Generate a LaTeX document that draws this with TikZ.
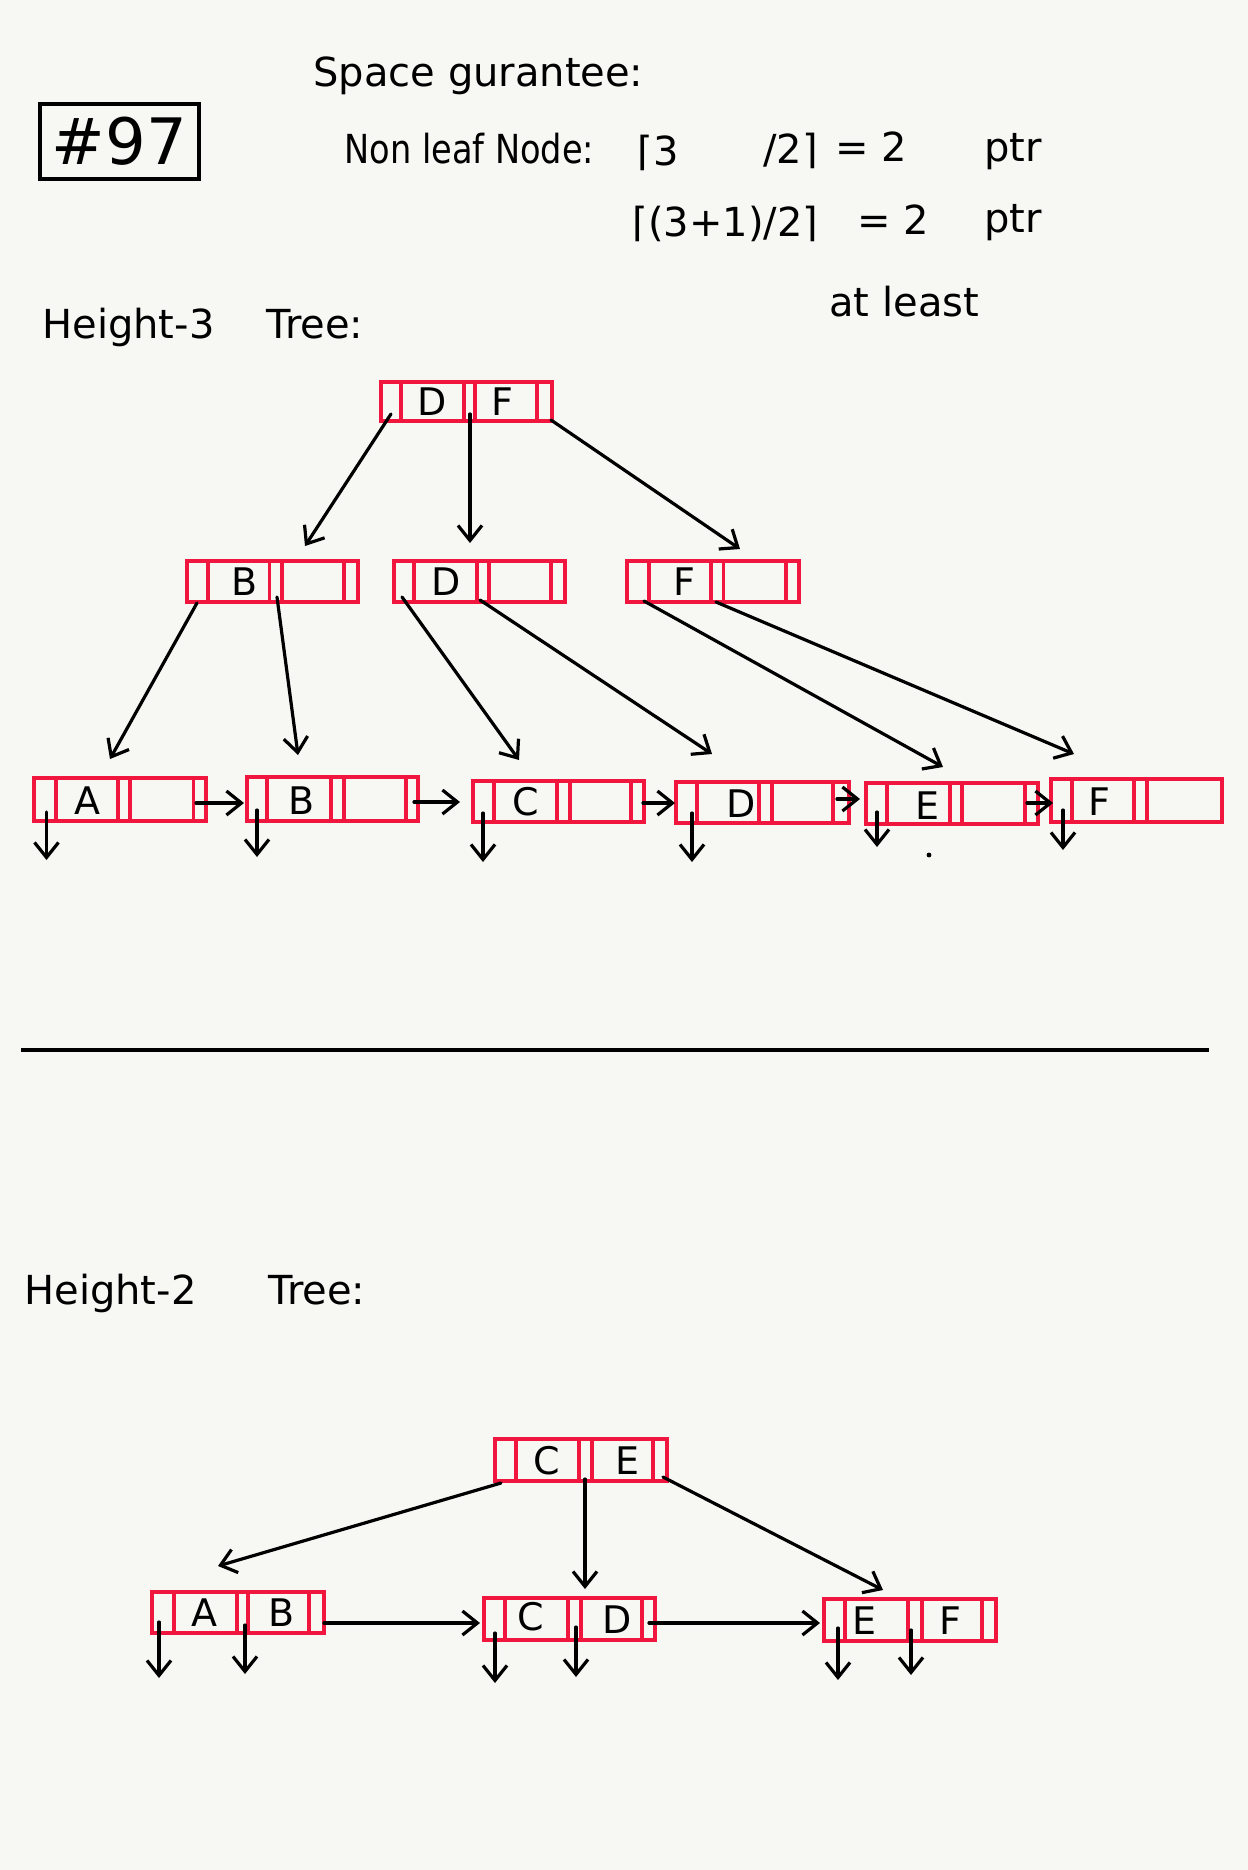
\documentclass[tikz,border=0pt]{standalone}
\usepackage{fontspec}
\usepackage{graphicx}
\setmainfont{DejaVu Sans}
\usetikzlibrary{arrows.meta,calc}
\definecolor{bpred}{RGB}{240,22,62}
\definecolor{paper}{RGB}{247,247,244}
\tikzset{
  bpn/.style={draw=bpred, line width=1.8pt, rectangle, inner sep=0pt, outer sep=0pt},
  rdl/.style={draw=bpred, line width=1.6pt},
  keyl/.style={font=\fontsize{19}{21}\selectfont, inner sep=0pt},
  arr/.style={draw=black, line width=1.6pt, line cap=round, -{Straight Barb[length=7.5pt,width=12pt,line width=1.6pt]}},
  hand/.style={font=\fontsize{20}{24}\selectfont, anchor=base west, inner sep=0pt},
}
\newcommand\mybpbox[6]{%
  \node[bpn, minimum width={(#4-#2)*0.5pt}, minimum height={(#5-#3)*0.5pt}] (#1) at ({(#2+#4)/2},{(#3+#5)/2}) {};
  \foreach \d in {#6} \draw[rdl] (\d,#3) -- (\d,#5);
}
\begin{document}
\begin{tikzpicture}[x=0.5pt,y=-0.5pt]
\fill[paper] (0,0) rectangle (1248,1870);
\useasboundingbox (0,0) rectangle (1248,1870);

% header
\node[draw, line width=1.6pt, minimum width=79.5pt, minimum height=37.5pt, inner sep=0pt,
      font=\fontsize{32}{36}\selectfont] (title) at (119.5,141.5) {\#97};
\node[hand] (space) at (313,86) {Space gurantee:};
\node[hand] (nonleaf) at (344,163) {\scalebox{0.84}[1]{Non leaf Node:}};
\node[hand] (f1a) at (637,165) {⌈3};
\node[hand] (f1b) at (763,163) {/2⌉};
\node[hand] (f1c) at (835,161) {= 2};
\node[hand] (f1d) at (984,161) {ptr};
\node[hand] (f2a) at (632,236) {⌈(3+1)/2⌉};
\node[hand] (f2c) at (857,234) {= 2};
\node[hand] (f2d) at (984,232) {ptr};
\node[hand] (atleast) at (829,316) {at least};
\node[hand] (h3) at (42,338) {Height-3\hspace{26pt}Tree:};

% height-3 tree
\mybpbox{R}{381}{382}{552}{421}{401,464,475,537}
\node[keyl] (Rk1) at (432,401.5) {D};
\node[keyl] (Rk2) at (502,401.5) {F};

\mybpbox{M1}{187}{561}{358}{602}{208,269.5,282,344}
\node[keyl] (M1k) at (245,581.5) {B};
\mybpbox{M2}{394}{561}{565}{602}{414,477,489,551}
\node[keyl] (M2k) at (446,581.5) {D};
\mybpbox{M3}{627}{561}{799}{602}{649,711,723.5,786}
\node[keyl] (M3k) at (684,581.5) {F};

\mybpbox{L1}{34}{778}{206}{821}{56,118,130,193.5}
\node[keyl] (L1k) at (87,801) {A};
\mybpbox{L2}{247}{777}{418}{821}{267,331,344,406}
\node[keyl] (L2k) at (302,801) {B};
\mybpbox{L3}{473}{781}{644}{822}{494,557,570,631}
\node[keyl] (L3k) at (526,802) {C};
\mybpbox{L4}{676}{782}{849}{823}{697,759,772,833}
\node[keyl] (L4k) at (741,804) {D};
\mybpbox{L5}{866}{783}{1038}{824}{887,950,962,1025}
\node[keyl] (L5k) at (927,806) {E};
\mybpbox{L6}{1051}{779}{1222}{822}{1072,1134,1147}
\node[keyl] (L6k) at (1099,802) {F};

\draw[arr] ($(R.south west)+(10,-7)$) -- ($(M1.north west)+(118,-15)$);
\draw[arr] ($(R.south west)+(89,-7)$) -- ($(M2.north west)+(76,-18)$);
\draw[arr] ($(R.south east)+(-1,-1)$) -- ($(M3.north west)+(113,-12)$);

\draw[arr] ($(M1.south west)+(10,1)$) -- ($(L1.north west)+(76,-19)$);
\draw[arr] ($(M1.south west)+(90,-5)$) -- ($(L2.north west)+(51,-22)$);
\draw[arr] ($(M2.south west)+(8,-5)$) -- ($(L3.north west)+(46,-21)$);
\draw[arr] ($(M2.south west)+(86,-2)$) -- ($(L4.north west)+(36,-28)$);
\draw[arr] ($(M3.south west)+(17,-1)$) -- ($(L5.north west)+(77,-16)$);
\draw[arr] ($(M3.south west)+(89,0)$) -- ($(L6.north west)+(23,-25)$);

\draw[arr] ($(L1.east)+(-10,3.5)$) -- ($(L2.west)+(-3,4)$);
\draw[arr] ($(L2.east)+(-4,3)$) -- ($(L3.west)+(-13,0.5)$);
\draw[arr] ($(L3.east)+(-1,1.5)$) -- ($(L4.west)+(-1,0.5)$);
\draw[arr] ($(L4.east)+(-12,-3.5)$) -- ($(L5.west)+(-6,-4.5)$);
\draw[arr] ($(L5.east)+(-11,-0.5)$) -- ($(L6.west)+(2,2.5)$);

\draw[arr] ($(L1.south west)+(12.5,-9)$) -- ++(0,48);
\draw[arr] ($(L2.south west)+(10,-11)$) -- ++(0,47);
\draw[arr] ($(L3.south west)+(10,-9)$) -- ++(0,49);
\draw[arr] ($(L4.south west)+(16,-10)$) -- ++(0,49);
\draw[arr] ($(L5.south west)+(11,-12)$) -- ++(0,35);
\draw[arr] ($(L6.south west)+(12,-12)$) -- ++(0,40);
\fill (929,855) circle (1.2pt);

% separator
\draw[line width=1.6pt] (21,1050) -- (1209,1050);

% height-2 tree
\node[hand] (h2) at (24,1304) {Height-2\hspace{36pt}Tree:};

\mybpbox{R2}{495}{1439}{667}{1481}{516,579,592,653}
\node[keyl] (R2k1) at (547,1461) {C};
\node[keyl] (R2k2) at (627,1461) {E};

\mybpbox{AB}{152}{1592}{324}{1633}{174,237,248,309}
\node[keyl] (ABk1) at (204,1613) {A};
\node[keyl] (ABk2) at (282,1613) {B};
\mybpbox{CD}{484}{1598}{655}{1640}{505,568,581,642}
\node[keyl] (CDk1) at (531,1617) {C};
\node[keyl] (CDk2) at (617,1620) {D};
\mybpbox{EF}{824}{1599}{996}{1641}{845,908,922,982}
\node[keyl] (EFk1) at (864,1621) {E};
\node[keyl] (EFk2) at (950,1621) {F};

\draw[arr] ($(R2.south west)+(6,2)$) -- ($(AB.north west)+(66,-26)$);
\draw[arr] ($(R2.south west)+(90,-2)$) -- ($(CD.north west)+(101,-9)$);
\draw[arr] ($(R2.south east)+(-4,-4)$) -- ($(EF.north west)+(59,-9)$);

\draw[arr] ($(AB.east)+(0,10.5)$) -- ($(CD.west)+(-4,4)$);
\draw[arr] ($(CD.east)+(-6,4)$) -- ($(EF.west)+(-4,3)$);

\draw[arr] ($(AB.south west)+(7,-11)$) -- ++(0,56);
\draw[arr] ($(AB.south west)+(93,-8)$) -- ++(0,49);
\draw[arr] ($(CD.south west)+(11,-7)$) -- ++(0,50);
\draw[arr] ($(CD.south west)+(92,-13)$) -- ++(0,50);
\draw[arr] ($(EF.south west)+(14,-13)$) -- ++(0,52);
\draw[arr] ($(EF.south west)+(87,-11)$) -- ++(0,45);
\end{tikzpicture}
\end{document}
